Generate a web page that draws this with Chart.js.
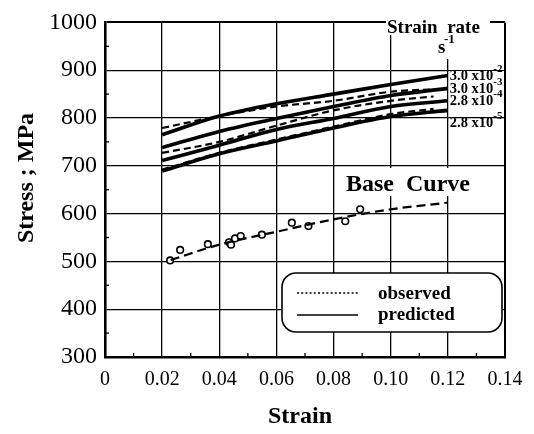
<!DOCTYPE html>
<html>
<head>
<meta charset="utf-8">
<script src="https://cdn.jsdelivr.net/npm/chart.js@4.4.0/dist/chart.umd.min.js"></script>
<style>
  html, body { margin: 0; padding: 0; background: #fff; }
  canvas { display: block; }
</style>
</head>
<body>
<canvas id="stressChart" width="534" height="434"></canvas>
<script>
// predicted flow stress for each strain rate (solid lines)
const predStrain = [0.02, 0.04, 0.06, 0.08, 0.10, 0.12];
const pred30e2 = [765, 804, 830, 850, 870, 889];
const pred30e3 = [738, 772, 799, 824, 847, 862];
const pred28e4 = [711, 743, 776, 799, 824, 836];
const pred28e5 = [689, 725, 752, 779, 803, 816];

// measured curves (dashed lines)
const obsStrain = [0.02, 0.04, 0.06, 0.08, 0.10, 0.115];
const obsUpper = [779, 804, 824, 836, 855, 860];
const obsMiddle = [727, 750, 784, 816, 836, 845];
const obsLower = [692, 727, 755, 782, 808, 819];

// base curve and the test points it was fitted to
const baseStrain = [0.023, 0.04, 0.06, 0.08, 0.10, 0.12];
const baseStress = [503, 535, 562, 588, 609, 623];
const testStrain = [0.0228, 0.0263, 0.036, 0.0434, 0.0441, 0.0455, 0.0475, 0.0549, 0.0654, 0.0712, 0.0841, 0.0893];
const testStress = [502, 524, 536, 540, 535, 548, 553, 556, 581, 574, 584, 609];

// strain rate labels, s^-1
const rateMantissa = ['3.0 x10', '3.0 x10', '2.8 x10', '2.8 x10'];
const rateExponent = ['-2', '-3', '-4', '-5'];

const xTickLabels = ['0', '0.02', '0.04', '0.06', '0.08', '0.10', '0.12', '0.14'];
const yTickLabels = ['300', '400', '500', '600', '700', '800', '900', '1000'];

const SERIF = '"Liberation Serif", "Times New Roman", serif';

function pts(xs, ys) {
    return xs.map((v, i) => ({ x: v, y: ys[i] }));
}

const predSeries = [pred30e2, pred30e3, pred28e4, pred28e5];
const obsSeries = [obsUpper, obsMiddle, obsLower];

const datasets = [];
predSeries.forEach(s => {
    datasets.push({
        data: pts(predStrain, s),
        borderColor: '#000', borderWidth: 3.6,
        pointRadius: 0, showLine: true,
        cubicInterpolationMode: 'monotone'
    });
});
obsSeries.forEach(s => {
    datasets.push({
        data: pts(obsStrain, s),
        borderColor: '#000', borderWidth: 2.2,
        borderDash: [7, 4],
        pointRadius: 0, showLine: true,
        cubicInterpolationMode: 'monotone'
    });
});
datasets.push({
    data: pts(baseStrain, baseStress),
    borderColor: '#000', borderWidth: 2.2,
    borderDash: [9, 5],
    pointRadius: 0, showLine: true,
    cubicInterpolationMode: 'monotone'
});
datasets.push({
    data: pts(testStrain, testStress),
    showLine: false,
    pointRadius: 3.3,
    pointBorderWidth: 1.6,
    pointBorderColor: '#000',
    pointBackgroundColor: '#fff'
});

// extra drawing: minor ticks, labels, legend box, axis titles
const figureExtras = {
    id: 'figureExtras',
    afterDraw(chart) {
        const { ctx, chartArea: area, scales: { x, y } } = chart;
        ctx.save();
        ctx.strokeStyle = '#000';
        ctx.fillStyle = '#000';

        // small inner ticks between the grid lines
        ctx.lineWidth = 1.3;
        for (let v = 350; v < 1000; v += 100) {
            const py = y.getPixelForValue(v);
            ctx.beginPath(); ctx.moveTo(area.left, py); ctx.lineTo(area.left + 4, py); ctx.stroke();
        }
        for (let k = 1; k < 14; k += 2) {
            const px = x.getPixelForValue(k * 0.01);
            ctx.beginPath(); ctx.moveTo(px, area.bottom); ctx.lineTo(px, area.bottom - 4); ctx.stroke();
        }

        // "Strain rate s-1" heading
        ctx.fillStyle = '#fff';
        ctx.fillRect(386, 15, 104, 20);
        ctx.fillRect(436, 35, 22, 24);
        ctx.fillStyle = '#000';
        ctx.textBaseline = 'alphabetic';
        ctx.textAlign = 'left';
        ctx.font = 'bold 19px ' + SERIF;
        ctx.fillText('Strain  rate', 387, 33);
        ctx.fillText('s', 438, 53);
        ctx.font = 'bold 13px ' + SERIF;
        ctx.fillText('-1', 444, 43);

        // rate labels at the end of each predicted line
        const x12 = x.getPixelForValue(0.12);
        ctx.fillStyle = '#fff';
        ctx.fillRect(x12 + 1, y.getPixelForValue(900) + 1, area.right - x12 - 2, y.getPixelForValue(800) - y.getPixelForValue(900) - 2);
        ctx.fillStyle = '#000';
        const shift = [0, 0, 0, 12];
        predSeries.forEach((s, i) => {
            const ly = y.getPixelForValue(s[s.length - 1]) + 4.5 + shift[i];
            ctx.font = 'bold 14.5px ' + SERIF;
            ctx.fillText(rateMantissa[i], x12 + 2, ly);
            const w = ctx.measureText(rateMantissa[i]).width;
            ctx.font = 'bold 11px ' + SERIF;
            ctx.fillText(rateExponent[i], x12 + 2 + w, ly - 8);
        });

        // "Base Curve" tag
        ctx.fillStyle = '#fff';
        ctx.fillRect(343, 168, 138, 28);
        ctx.fillStyle = '#000';
        ctx.font = 'bold 24px ' + SERIF;
        ctx.fillText('Base  Curve', 346, 191);

        // legend box
        ctx.lineWidth = 1.6;
        ctx.beginPath();
        ctx.roundRect(282, 273, 220, 59, 14);
        ctx.fillStyle = '#fff';
        ctx.fill();
        ctx.stroke();
        ctx.lineWidth = 1.5;
        ctx.setLineDash([2, 2.2]);
        ctx.beginPath(); ctx.moveTo(297, 293); ctx.lineTo(358, 293); ctx.stroke();
        ctx.setLineDash([]);
        ctx.beginPath(); ctx.moveTo(297, 315); ctx.lineTo(358, 315); ctx.stroke();
        ctx.fillStyle = '#000';
        ctx.font = 'bold 19px ' + SERIF;
        ctx.fillText('observed', 378, 299);
        ctx.fillText('predicted', 378, 320);

        // axis titles
        ctx.font = 'bold 24px ' + SERIF;
        ctx.textAlign = 'center';
        ctx.fillText('Strain', 300, 423);
        ctx.translate(33, 178);
        ctx.rotate(-Math.PI / 2);
        ctx.fillText('Stress ; MPa', 0, 0);
        ctx.restore();
    }
};

const edgeWidth = (ctx, last) => (ctx.index === 0 || ctx.index === last ? 2 : 1.3);

new Chart(document.getElementById('stressChart'), {
    type: 'scatter',
    data: { datasets: datasets },
    options: {
        responsive: false,
        animation: false,
        layout: { padding: { top: 13, right: 29, left: 0, bottom: 0 } },
        plugins: { legend: { display: false }, tooltip: { enabled: false } },
        scales: {
            x: {
                type: 'linear', min: 0, max: 0.14,
                grid: { color: '#000', lineWidth: c => edgeWidth(c, 7), drawTicks: false },
                border: { color: '#000', width: 2.6 },
                ticks: {
                    stepSize: 0.02, padding: 11, color: '#000',
                    font: { family: SERIF, size: 20 },
                    callback: (v, i) => xTickLabels[i]
                },
                afterFit: s => { s.height = 77; }
            },
            y: {
                min: 300, max: 1000,
                grid: { color: '#000', lineWidth: c => edgeWidth(c, 7), drawTicks: false },
                border: { color: '#000', width: 2.6 },
                ticks: {
                    stepSize: 100, padding: 8, color: '#000',
                    font: { family: SERIF, size: 24 },
                    callback: (v, i) => yTickLabels[i]
                },
                afterFit: s => { s.width = 105; }
            }
        }
    },
    plugins: [figureExtras]
});
</script>
</body>
</html>
